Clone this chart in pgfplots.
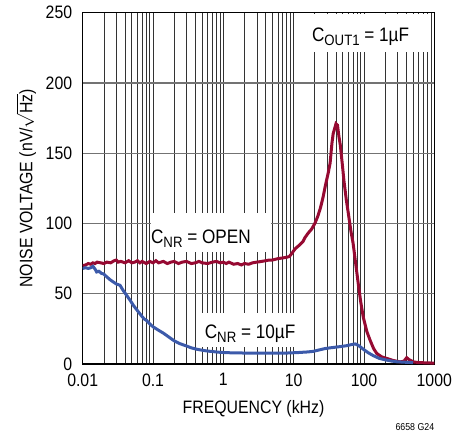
\documentclass[border=0pt]{standalone}
\usepackage{pgfplots}
\pgfplotsset{compat=1.18}
\usepackage{fontspec}
\setmainfont{Liberation Sans}[FakeStretch=0.88]

\definecolor{crim}{HTML}{960A32}
\definecolor{nblue}{HTML}{3C5AAA}
\newcommand{\tk}{\fontsize{18bp}{20bp}\selectfont}
\newcommand{\an}{\fontsize{19.5bp}{21bp}\selectfont}
\newcommand{\sub}[1]{\raisebox{-4bp}{\fontsize{15bp}{16bp}\selectfont #1}}

\begin{document}
\begin{tikzpicture}
\begin{axis}[name=ax,
  scale only axis, width=351.6bp, height=351.3bp,
  xmode=log, xmin=0.01, xmax=1000,
  ymin=0, ymax=250,
  xtick={0.01,0.1,1,10,100,1000},
  xticklabels={0.01,0.1,1,10,100,1000},
  ytick={0,50,100,150,200,250},
  minor ytick={},
  grid=both,
  major x grid style={black!80, line width=0.7bp},
  minor x grid style={black!80, line width=0.7bp},
  major y grid style={black!55, line width=1.4bp},
  major tick length=0pt, minor tick length=0pt,
  axis line style={line width=1.6bp},
  /pgf/number format/assume math mode=true,
  ticklabel style={font=\tk},
  xticklabel style={yshift=-6bp},
  yticklabel style={xshift=-7bp},
  xlabel={FREQUENCY (kHz)},
  ylabel={NOISE VOLTAGE (nV/$\sqrt{\mbox{Hz}}$)},
  label style={font=\tk},
  xlabel style={at={(axis description cs:0.5,0)}, anchor=center, yshift=-45bp, xshift=-5bp},
  ylabel style={at={(axis description cs:-0.161,0.5)}, anchor=center},
]
\addplot[crim, line width=3bp] coordinates {
(0.010,70) (0.011,70.5) (0.012,71.5) (0.013,71) (0.014,72) (0.015,71.5)
(0.016,72.5) (0.018,72) (0.020,71.5) (0.022,72.5) (0.025,72) (0.028,73.5)
(0.030,74) (0.032,72.5) (0.035,73) (0.040,72) (0.045,73.5) (0.050,72)
(0.055,72.5) (0.060,73.5) (0.065,72) (0.070,73) (0.080,71.5) (0.090,73)
(0.100,72) (0.110,73.5) (0.120,72) (0.140,73) (0.160,71.5) (0.180,72.5)
(0.200,73) (0.230,71.5) (0.260,72.5) (0.300,73) (0.350,71.5) (0.400,72)
(0.450,73) (0.500,72) (0.600,71.5) (0.700,72.5) (0.800,73) (0.900,72)
(1.000,72.5) (1.100,71.5) (1.200,72.5) (1.400,71) (1.600,71.5) (1.800,70.5)
(2.000,71.5) (2.300,71) (2.600,72) (3.000,72.5) (3.500,73) (4.000,73.5)
(4.500,74) (5.000,74) (6.000,75) (7.000,75.5) (8.000,76) (8.700,76.5)
(9.500,79) (10.5,82) (12,84.5) (13.5,87) (14.5,90) (16,93) (18,96)
(20,100) (22,105) (24,111) (26,118) (28,126) (31,136) (33,143) (35,157)
(36.5,164) (38,167) (40,171) (42,170) (44,162) (46,156) (49,143) (52,130)
(56,117) (60,107) (65,95) (70,86) (76,72) (83,57) (90,44) (98,33)
(110,23) (122,17) (137,11) (152,7.5) (180,5) (210,4) (260,2.5) (326,1.5)
(370,2) (405,4.5) (440,3) (505,1.5) (600,1) (800,0.8) (1000,0.6)
};
\addplot[nblue, line width=3bp] coordinates {
(0.010,68) (0.011,68.5) (0.012,68) (0.013,68.5) (0.014,69.5) (0.015,67.5)
(0.0158,65.5) (0.017,66) (0.0185,64.5) (0.020,64) (0.022,62) (0.0245,60)
(0.027,58.5) (0.030,57) (0.034,56) (0.038,52) (0.042,49) (0.047,45.5)
(0.053,41.5) (0.060,38) (0.068,34.5) (0.075,32) (0.081,31) (0.090,28.5)
(0.100,26.5) (0.120,24) (0.140,22) (0.170,19) (0.200,16.5) (0.240,14.5)
(0.300,12.8) (0.350,11.5) (0.420,10.5) (0.500,9.8) (0.600,9.2) (0.720,8.8)
(0.850,8.4) (1.0,8.2) (1.24,8.0) (2,7.8) (3,7.7) (5,7.7) (8,7.8) (12,8.2)
(16,8.6) (19,9) (23,10) (28,11) (33,11.5) (40,12) (48,12.5) (56,13)
(65,13.7) (75,14.3) (83,13.3) (98,10.5) (115,8) (135,6) (165,4) (200,3)
(240,2.2) (290,1.6) (400,1.2) (500,1)
};
% label boxes
\fill[white] (axis cs:13.6,222) rectangle (axis cs:900,248.8);
\node[font=\an] at (axis cs:89.5,233) {C\sub{OUT1} = 1µF};
\fill[white] (axis cs:0.095,79.8) rectangle (axis cs:4.77,107.5);
\node[font=\an] at (axis cs:0.48,89) {C\sub{NR} = OPEN};
\fill[white] (axis cs:0.438,12.1) rectangle (axis cs:10.8,36.3);
\node[font=\an] at (axis cs:2.40,21.9) {C\sub{NR} = 10µF};
\end{axis}
\node[anchor=east, font=\fontsize{10bp}{11bp}\selectfont] at ([shift={(3.4bp,-62.7bp)}]ax.south east) {6658 G24};
\pgfresetboundingbox
\path[use as bounding box] ([shift={(-82.7bp,-71bp)}]ax.south west) rectangle ([shift={(389.3bp,364bp)}]ax.south west);
\end{tikzpicture}
\end{document}
